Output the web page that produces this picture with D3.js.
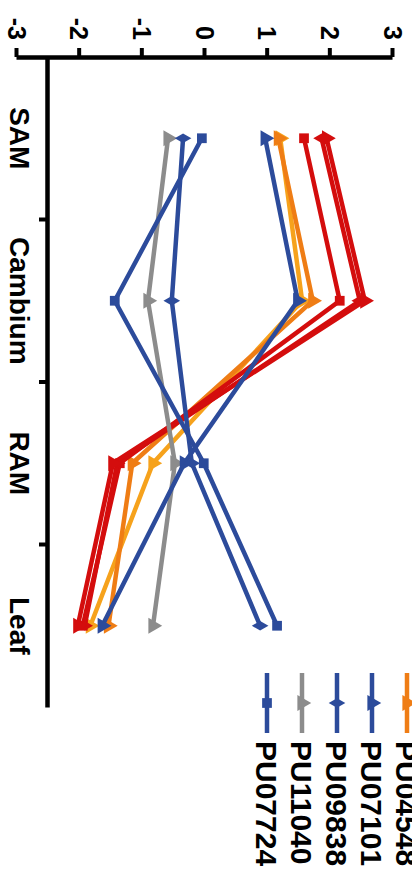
<!DOCTYPE html>
<html>
<head>
<meta charset="utf-8">
<script src="https://cdn.jsdelivr.net/npm/d3@7"></script>
<style>
  body { margin: 0; background: #fff; }
  svg { display: block; }
  text { font-family: "Liberation Sans", Arial, sans-serif; font-weight: bold; fill: #000; }
</style>
</head>
<body>
<script>
// chart values
const categories = ["SAM", "Cambium", "RAM", "Leaf"];
const yTicks = [-3, -2, -1, 0, 1, 2, 3];

// legend order top -> bottom; the first four entries sit outside the frame
const seriesNames = ["red A", "red B", "red C", "amber", "PU04548", "PU07101", "PU09838", "PU11040", "PU07724"];
const seriesColors = ["#d40d0d", "#d40d0d", "#d40d0d", "#f6a21c", "#ef7d15", "#2c4b9b", "#2c4b9b", "#8c8c8c", "#2c4b9b"];
const seriesSymbols = ["triangle", "diamond", "square", "triangle", "triangle", "triangle", "diamond", "triangle", "square"];

const redA    = [1.94, 2.55, -1.47, -2.03];
const redB    = [1.86, 2.47, -1.40, -1.92];
const redC    = [1.58, 2.15, -1.36, -1.95];
const amber   = [1.20, 1.55, -0.83, -1.83];
const PU04548 = [1.17, 1.72, -1.16, -1.54];
const PU07101 = [0.96, 1.48, -0.33, -1.64];
const PU09838 = [-0.35, -0.53, -0.21, 0.88];
const PU11040 = [-0.59, -0.91, -0.48, -0.83];
const PU07724 = [-0.05, -1.44, -0.02, 1.15];

const seriesValues = [redA, redB, redC, amber, PU04548, PU07101, PU09838, PU11040, PU07724];
// visible legend rows
const legendShown = ["PU04548", "PU07101", "PU09838", "PU11040", "PU07724"];

// the whole figure is turned 90deg clockwise: draw it upright in an 872x412 frame
const svg = d3.select("body").append("svg")
    .attr("width", 412)
    .attr("height", 872);

const g = svg.append("g")
    .attr("transform", `translate(${412},0) rotate(90)`);

const x = d3.scaleBand()
    .domain(categories)
    .range([57, 707]);

const y = d3.scaleLinear()
    .domain([-3, 3])
    .range([395, 19]);

const axisV = 364;   // where the category axis sits

// value axis
const yAxis = g.append("g")
    .attr("transform", "translate(57,0)")
    .call(d3.axisLeft(y).tickValues(yTicks).tickFormat(d => String(d))
        .tickSize(9).tickSizeOuter(0).tickPadding(8));

yAxis.select(".domain").attr("stroke", "#000").attr("stroke-width", 4.5);
yAxis.selectAll(".tick line").attr("stroke", "#000").attr("stroke-width", 4);
yAxis.selectAll(".tick text")
    .attr("font-size", 25)
    .attr("font-family", null)
    .attr("dy", "0.36em");

// category axis
const xAxis = g.append("g")
    .attr("transform", `translate(0,${axisV})`)
    .call(d3.axisBottom(x).tickSize(0).tickSizeOuter(0).tickPadding(18));

xAxis.select(".domain").attr("stroke", "#000").attr("stroke-width", 4.5);
xAxis.selectAll(".tick text")
    .attr("font-size", 28)
    .attr("font-family", null)
    .attr("dy", "0.72em");

// ticks between categories
xAxis.selectAll(".sep")
    .data(categories.slice(1))
    .enter().append("line")
    .attr("class", "sep")
    .attr("x1", d => x(d)).attr("x2", d => x(d))
    .attr("y1", 0).attr("y2", 9)
    .attr("stroke", "#000")
    .attr("stroke-width", 4);

// markers
const symbolTypes = { triangle: d3.symbolTriangle, diamond: d3.symbolDiamond, square: d3.symbolSquare };
const symbolSizes = { triangle: 110, diamond: 80, square: 95 };
function symbolPath(kind) {
    return d3.symbol().type(symbolTypes[kind]).size(symbolSizes[kind])();
}

const line = d3.line()
    .x((d, i) => x(categories[i]) + x.bandwidth() / 2)
    .y(d => y(d));

const drawOrder = [3, 4, 2, 1, 0, 7, 5, 6, 8];

drawOrder.forEach(k => {
    const vals = seriesValues[k];
    const s = g.append("g").attr("class", "series");
    s.append("path")
        .datum(vals)
        .attr("fill", "none")
        .attr("stroke", seriesColors[k])
        .attr("stroke-width", 4.5)
        .attr("stroke-linejoin", "miter")
        .attr("d", line);
    s.selectAll("path.pt")
        .data(vals)
        .enter().append("path")
        .attr("class", "pt")
        .attr("fill", seriesColors[k])
        .attr("transform", (d, i) => `translate(${x(categories[i]) + x.bandwidth() / 2},${y(d)})`)
        .attr("d", symbolPath(seriesSymbols[k]));
});

// legend (only the rows that fall inside the frame)
const legendRow = 35;
const legend = g.append("g").attr("class", "legend");

legendShown.forEach(name => {
    const k = seriesNames.indexOf(name);
    const row = k - 4;             // PU04548 is the first row inside the frame
    const v = 5 + row * legendRow;
    const item = legend.append("g").attr("transform", `translate(673,${v})`);
    item.append("line")
        .attr("x1", 0).attr("x2", 60)
        .attr("stroke", seriesColors[k])
        .attr("stroke-width", 4.5);
    item.append("path")
        .attr("transform", "translate(30,0)")
        .attr("fill", seriesColors[k])
        .attr("d", symbolPath(seriesSymbols[k]));
    item.append("text")
        .attr("x", 68)
        .attr("dy", "0.36em")
        .attr("font-size", 30)
        .text(name);
});
</script>
</body>
</html>
